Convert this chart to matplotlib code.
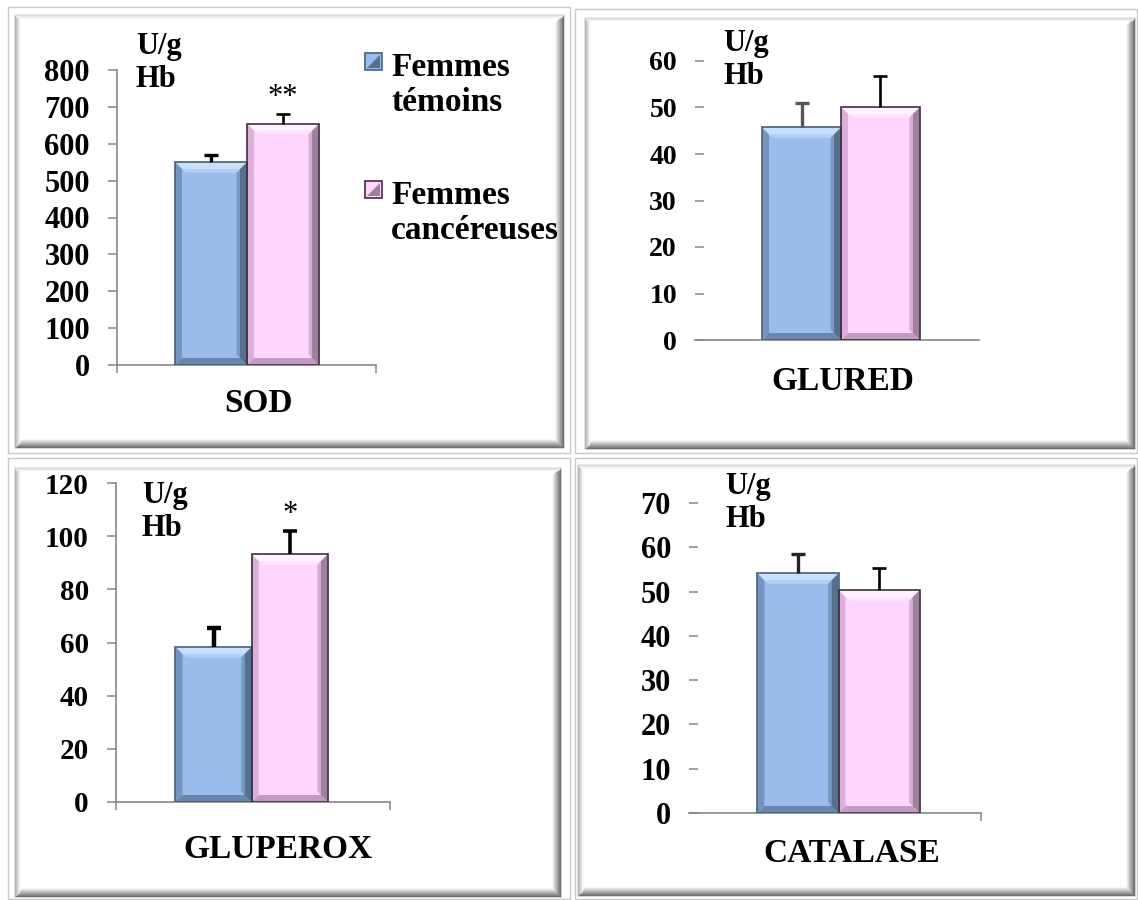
import numpy as np
import matplotlib.pyplot as plt
from matplotlib.patches import Rectangle, Polygon
from matplotlib.lines import Line2D

plt.rcParams['font.family'] = ['Liberation Serif', 'DejaVu Serif']

# Data
enzymes = ['SOD', 'GLURED', 'GLUPEROX', 'CATALASE']
temoins = [550, 45.7, 58.3, 54.1]
temoins_err = [19, 5.2, 7.1, 4.4]
cancer = [654, 50.1, 93.2, 50.3]
cancer_err = [26, 6.7, 8.6, 5.1]
stars = ['**', '', '*', '']
y_max = [800, 60, 120, 70]
y_step = [100, 10, 20, 10]
legend_labels = ['Femmes\ntémoins', 'Femmes\ncancéreuses']
unit = 'U/g\nHb'

W, H = 1138, 900

# layout (pixels): axes x0, x1, y of zero, y of max
ax_px = [(117, 376, 365, 70), (695, 979, 340, 61),
         (116, 390, 802, 483), (689, 981, 813, 503)]
group_center = [0.502, 0.514, 0.495, 0.512]
bar_w = 0.278
unit_pos = [(136, 63), (723, 60), (142, 512), (725, 503)]
label_pos = [(258, 403), (843, 382), (278, 849), (852, 853)]
tick_fs = [22, 20, 21, 22]
spine_left = [True, False, True, False]
xticks_at = [[0, 1], [], [0, 1], [1]]
err_col = [('black', 'black'), ('#555555', 'black'), ('black', 'black'), ('#222222', 'black')]
err_lw = [2.4, 2.4, 3.2, 2.4]

frames_outer = [(8, 7, 570, 453), (575, 9, 1137, 453), (8, 458, 570, 899), (575, 458, 1137, 899)]
frames_inner = [(15, 15, 563, 447), (585, 18, 1134, 448), (15, 468, 560, 896), (578, 465, 1134, 895)]

blue = dict(face='#9bbdee', top='#c8e0fb', left='#7594c0', right='#55708f',
            bottom='#6a86ad', edge='#4a5f7c')
pink = dict(face='#ffd5fd', top='#fff2ff', left='#dcaedb', right='#a0809f',
            bottom='#c49ac2', edge='#3e2e3e')

fig = plt.figure(figsize=(W / 100, H / 100), dpi=100)


def fx(x):
    return x / W


def fy(y):
    return 1 - y / H


def draw_frame(outer, inner):
    x0, y0, x1, y1 = outer
    fig.patches.append(Rectangle((fx(x0), fy(y1)), fx(x1 - x0), (y1 - y0) / H,
                                 transform=fig.transFigure, facecolor='white',
                                 edgecolor='#c8c8c8', lw=1.0, zorder=0))
    x0, y0, x1, y1 = inner
    fig.patches.append(Rectangle((fx(x0), fy(y1)), fx(x1 - x0), (y1 - y0) / H,
                                 transform=fig.transFigure, facecolor='white',
                                 edgecolor='#b0b0b0', lw=1.0, zorder=0.1))
    # shadow right / bottom, light bevel left / top
    for i in range(9):
        g = 0.42 + i * 0.068
        c = (g, g, g)
        fig.lines.append(Line2D([fx(x1 - i), fx(x1 - i)], [fy(y1 - i), fy(y0 + i)],
                                transform=fig.transFigure, color=c, lw=1.0, zorder=0.2))
        fig.lines.append(Line2D([fx(x0 + i), fx(x1 - i)], [fy(y1 - i), fy(y1 - i)],
                                transform=fig.transFigure, color=c, lw=1.0, zorder=0.2))
    for i in range(5):
        g = 0.7 + i * 0.06
        c = (g, g, g)
        fig.lines.append(Line2D([fx(x0 + i), fx(x0 + i)], [fy(y1 - i), fy(y0 + i)],
                                transform=fig.transFigure, color=c, lw=1.0, zorder=0.2))
    for i in range(3):
        g = 0.85 + i * 0.05
        fig.lines.append(Line2D([fx(x0 + i), fx(x1 - i)], [fy(y0 + i), fy(y0 + i)],
                                transform=fig.transFigure, color=(g, g, g), lw=1.0, zorder=0.2))


def bevel(ax, x, h, w, col, bx, by):
    x0, x1 = x - w / 2, x + w / 2
    pieces = [
        ([(x0, h), (x1, h), (x1 - bx, h - by), (x0 + bx, h - by)], col['top']),
        ([(x0, 0), (x1, 0), (x1 - bx, by), (x0 + bx, by)], col['bottom']),
        ([(x0, 0), (x0, h), (x0 + bx, h - by), (x0 + bx, by)], col['left']),
        ([(x1, 0), (x1, h), (x1 - bx, h - by), (x1 - bx, by)], col['right']),
    ]
    for pts, c in pieces:
        ax.add_patch(Polygon(pts, closed=True, facecolor=c, edgecolor='none', zorder=3))
    # soft second step
    bx2, by2 = bx * 0.5, by * 0.5
    ax.add_patch(Polygon([(x0 + bx, h - by), (x1 - bx, h - by), (x1 - bx - bx2, h - by - by2),
                          (x0 + bx + bx2, h - by - by2)], facecolor=col['top'], alpha=0.5,
                         edgecolor='none', zorder=3))
    ax.add_patch(Polygon([(x1 - bx, by), (x1 - bx, h - by), (x1 - bx - bx2, h - by - by2),
                          (x1 - bx - bx2, by + by2)], facecolor=col['right'], alpha=0.45,
                         edgecolor='none', zorder=3))
    ax.add_patch(Rectangle((x0, 0), w, h, facecolor='none', edgecolor=col['edge'],
                           lw=1.2, zorder=4))


def up_error(ax, x, y, err, color, lw):
    _, caps, _ = ax.errorbar(x, y, yerr=[[0], [err]], fmt='none', ecolor=color,
                             elinewidth=lw, capsize=5, capthick=lw, zorder=5)
    # only the upper cap, as in the original chart
    caps[0].set_visible(False)


for fo, fi in zip(frames_outer, frames_inner):
    draw_frame(fo, fi)

for i, name in enumerate(enzymes):
    x0, x1, yz, ym = ax_px[i]
    ax = fig.add_axes([fx(x0), fy(yz), (x1 - x0) / W, (yz - ym) / H])
    ax.set_zorder(2)
    ax.set_facecolor('none')
    ax.set_xlim(0, 1)
    ax.set_ylim(0, y_max[i])
    ax.set_yticks(np.arange(0, y_max[i] + 1, y_step[i]))
    ax.set_xticks(xticks_at[i])
    ax.set_xticklabels([])
    for s in ['top', 'right']:
        ax.spines[s].set_visible(False)
    ax.spines['bottom'].set_color('#868686')
    ax.spines['bottom'].set_linewidth(1.2)
    ax.spines['left'].set_color('#868686')
    ax.spines['left'].set_linewidth(1.2)
    ax.spines['left'].set_visible(spine_left[i])
    if spine_left[i]:
        ax.tick_params(axis='y', direction='out', length=6.5, width=1.1, color='#868686', pad=13)
    else:
        ax.tick_params(axis='y', direction='in', length=6.5, width=1.1, color='#868686', pad=13)
    ax.tick_params(axis='x', direction='out', length=6, width=1.1, color='#868686')
    for t in ax.get_yticklabels():
        t.set_fontsize(tick_fs[i])
        t.set_fontweight('bold')

    c = group_center[i]
    xs = [c - bar_w / 2, c + bar_w / 2]
    ax.bar(xs[0], temoins[i], width=bar_w, color=blue['face'], zorder=2)
    ax.bar(xs[1], cancer[i], width=bar_w, color=pink['face'], zorder=2)

    bx = 7 / (x1 - x0)
    by = 7 / (yz - ym) * y_max[i]
    bevel(ax, xs[0], temoins[i], bar_w, blue, bx, by)
    bevel(ax, xs[1], cancer[i], bar_w, pink, bx, by)

    up_error(ax, xs[0], temoins[i], temoins_err[i], err_col[i][0], err_lw[i])
    up_error(ax, xs[1], cancer[i], cancer_err[i], err_col[i][1], err_lw[i] * 0.8)

    if stars[i]:
        ax.text(xs[1], cancer[i] + cancer_err[i] + 0.03 * y_max[i], stars[i],
                ha='center', va='baseline', fontsize=22)

    ax.set_xlabel(name, fontsize=24, fontweight='bold')
    ax.xaxis.label.set_va('center')
    lx, ly = label_pos[i]
    ax.xaxis.set_label_coords((lx - x0) / (x1 - x0), (yz - ly) / (yz - ym))

    ux, uy = unit_pos[i]
    fig.text(fx(ux), fy(uy), unit, ha='left', va='center', fontsize=22,
             fontweight='bold', linespacing=1.15, zorder=3)

# legend (drawn by hand so the square sits beside the first line)
leg_y = [65, 193]
for col, lab, y in zip([blue, pink], legend_labels, leg_y):
    fig.patches.append(Rectangle((fx(365), fy(y + 5)), 17 / W, 17 / H, transform=fig.transFigure,
                                 facecolor=col['face'], edgecolor=col['edge'], lw=1.2, zorder=3))
    fig.patches.append(Polygon([(fx(367), fy(y + 3)), (fx(380), fy(y - 10)), (fx(380), fy(y + 3))],
                               transform=fig.transFigure, facecolor=col['right'],
                               edgecolor='none', zorder=3.5))
    fig.text(fx(391), fy(y + 20), lab, ha='left', va='center', fontsize=24, fontweight='bold',
             linespacing=1.15, zorder=3)

fig.savefig('out.png', dpi=100)
